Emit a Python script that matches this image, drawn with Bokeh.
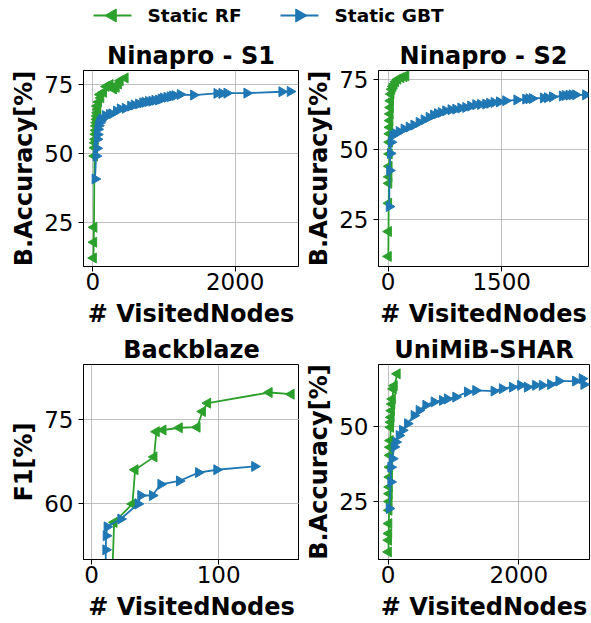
import numpy as np
from bokeh.plotting import figure
from bokeh.layouts import column, row
from bokeh.models import Range1d, FixedTicker, Label
from bokeh.embed import file_html
from bokeh.resources import INLINE

# ---------------- data: visited nodes vs. score ----------------
# Ninapro - S1 (balanced accuracy, %)
s1_rf_nodes = [8, 12, 15, 22, 26, 30, 34, 38, 42, 46, 50, 54, 58, 64, 70, 60, 80,
               112, 100, 150, 187, 243, 290, 328, 360, 384, 454]
s1_rf_acc = [12.3, 18.0, 23.4, 49.2, 52.2, 54.0, 55.3, 57.1, 58.5, 60.1, 61.3, 62.5,
             63.7, 64.9, 66.1, 67.3, 68.8, 70.3, 71.5, 72.3, 74.4, 75.1, 73.5, 74.1,
             75.3, 76.5, 77.5]
s1_gbt_nodes = [30, 45, 56, 60, 65, 70, 80, 95, 110, 130, 173, 230, 266, 330, 384, 454,
                530, 580, 641, 700, 735, 780, 828, 870, 922, 960, 992, 1040, 1086, 1120,
                1156, 1227, 1414, 1742, 1812, 1882, 2163, 2655, 2772]
s1_gbt_acc = [40.9, 49.2, 52.0, 55.3, 57.0, 58.9, 60.2, 61.3, 62.0, 62.7, 63.9, 64.3,
              64.5, 65.5, 66.3, 66.5, 67.3, 67.7, 68.1, 68.5, 68.7, 69.0, 69.1, 69.4,
              69.5, 69.9, 70.2, 70.5, 70.7, 71.0, 71.1, 71.5, 71.3, 71.9, 71.9, 72.0,
              72.0, 72.5, 72.6]

# Ninapro - S2 (balanced accuracy, %)
s2_rf_nodes = [3, 5, 8, 10, 12, 14, 16, 18, 20, 22, 24, 27, 30, 33, 38, 50, 65, 80,
               100, 130, 170, 210, 235]
s2_rf_acc = [11.8, 20.7, 30.8, 37.9, 40.2, 44.0, 48.4, 52.6, 55.6, 57.9, 60.3, 62.7,
             65.0, 67.4, 69.8, 71.5, 72.5, 73.3, 74.2, 75.1, 75.6, 76.0, 76.3]
s2_gbt_nodes = [14, 20, 30, 40, 60, 100, 145, 210, 277, 340, 409, 475, 541, 600, 651,
                700, 760, 830, 893, 960, 1025, 1090, 1157, 1220, 1289, 1340, 1399, 1470,
                1553, 1700, 1817, 1860, 1905, 2050, 2104, 2170, 2300, 2340, 2388, 2430,
                2476, 2608]
s2_gbt_acc = [29.6, 42.5, 48.6, 52.6, 55.0, 55.6, 56.4, 57.3, 58.0, 58.7, 59.7, 60.6,
              61.5, 62.3, 62.8, 63.2, 63.8, 64.2, 64.4, 64.8, 65.0, 65.5, 66.0, 66.1,
              66.2, 66.5, 66.8, 67.0, 67.4, 67.7, 68.0, 68.1, 68.2, 68.4, 68.5, 68.8,
              69.1, 69.3, 69.4, 69.5, 69.5, 69.5]

# Backblaze (F1, %)
bb_rf_nodes = [16.0, 17.8, 32.2, 34.3, 49.2, 51.0, 56.3, 69.1, 83.1, 87.3, 91.4, 139.8, 157.1]
bb_rf_f1 = [45.0, 56.7, 60.0, 66.1, 68.4, 72.9, 73.2, 73.6, 73.7, 76.5, 78.0, 79.9, 79.6]
bb_gbt_nodes = [11.2, 11.2, 11.5, 12.2, 23.0, 36.6, 38.7, 47.9, 54.5, 69.1, 84.1, 98.5, 128.3]
bb_gbt_f1 = [45.0, 51.8, 54.3, 55.9, 57.3, 60.0, 61.5, 61.5, 63.5, 64.1, 65.6, 66.1, 66.7]

# UniMiB-SHAR (balanced accuracy, %)
um_rf_nodes = [5, 8, 10, 12, 14, 16, 18, 20, 22, 25, 28, 31, 34, 38, 42, 46, 52, 58,
               66, 80, 95, 140]
um_rf_acc = [8.3, 12.2, 14.4, 17.7, 22.1, 25.0, 27.6, 29.8, 33.1, 36.4, 40.3, 43.0,
             45.2, 49.6, 51.3, 52.9, 55.1, 57.3, 59.0, 62.3, 63.4, 67.3]
um_gbt_nodes = [16, 41, 41, 67, 92, 118, 168, 219, 296, 397, 474, 576, 703, 830, 906,
                1034, 1212, 1339, 1619, 1746, 1899, 2026, 2128, 2255, 2357, 2484, 2611,
                2866, 2967, 2993]
um_gbt_acc = [22.7, 31.5, 36.4, 39.2, 43.1, 44.7, 46.9, 48.6, 50.8, 53.5, 55.2, 56.9,
              58.0, 58.5, 59.0, 59.6, 61.3, 61.8, 61.6, 62.4, 62.9, 63.5, 62.9, 63.5,
              63.5, 63.8, 64.9, 64.9, 65.7, 63.8]

# ---------------- style ----------------
RF_COLOR = "#2ca02c"
GBT_COLOR = "#1f77b4"
FONT = "DejaVu Sans"
LEFT = np.pi / 2      # triangle pointing left
RIGHT = -np.pi / 2    # triangle pointing right
LINE_W = 1.8
MARKER = 10
LABEL_SIZE = "24px"
TICK_SIZE = "23px"


def panel(title, rf, gbt, x_range, y_range, x_ticks, y_ticks, y_label, geom):
    width, height, left, right, top, bottom = geom
    p = figure(width=width, height=height,
               min_border_left=left, min_border_right=right,
               min_border_top=top, min_border_bottom=bottom,
               x_range=Range1d(*x_range), y_range=Range1d(*y_range),
               title=title, output_backend="svg", toolbar_location=None)
    p.background_fill_color = "white"
    p.border_fill_color = "white"
    p.outline_line_color = "black"
    p.outline_line_width = 1

    p.title.text_font = FONT
    p.title.text_font_size = LABEL_SIZE
    p.title.text_font_style = "bold"
    p.title.text_color = "black"
    p.title.align = "center"
    p.title.standoff = 1

    p.xaxis.ticker = FixedTicker(ticks=x_ticks)
    p.yaxis.ticker = FixedTicker(ticks=y_ticks)
    p.xaxis.axis_label = "# VisitedNodes"
    p.yaxis.axis_label = y_label
    for ax in (p.xaxis, p.yaxis):
        ax.axis_label_text_font = FONT
        ax.axis_label_text_font_size = LABEL_SIZE
        ax.axis_label_text_font_style = "bold"
        ax.axis_label_text_color = "black"
        ax.major_label_text_font = FONT
        ax.major_label_text_font_size = TICK_SIZE
        ax.major_label_text_color = "black"
        ax.major_tick_in = 0
        ax.major_tick_out = 5
        ax.major_tick_line_color = "black"
        ax.minor_tick_line_color = None
        ax.axis_line_color = "black"
    p.xaxis.major_label_standoff = 1
    p.xaxis.axis_label_standoff = 7
    p.yaxis.major_label_standoff = 5
    p.yaxis.axis_label_standoff = 3

    p.grid.grid_line_color = "#b0b0b0"
    p.grid.grid_line_width = 1
    p.grid.grid_line_alpha = 0.8

    for (xs, ys), color, angle in ((rf, RF_COLOR, LEFT), (gbt, GBT_COLOR, RIGHT)):
        p.line(xs, ys, line_color=color, line_width=LINE_W)
        p.scatter(xs, ys, marker="triangle", angle=angle, size=MARKER,
                  fill_color=color, line_color=color)
    return p


# geometry: width, height, border left, right, top, bottom
p1 = panel("Ninapro - S1", (s1_rf_nodes, s1_rf_acc), (s1_gbt_nodes, s1_gbt_acc),
           (-132, 2889), (9.2, 80.2), [0, 2000], [25, 50, 75], "B.Accuracy[%]",
           (299, 297, 83, 1, 35, 66))
p2 = panel("Ninapro - S2", (s2_rf_nodes, s2_rf_acc), (s2_gbt_nodes, s2_gbt_acc),
           (-127, 2647), (8.2, 78.2), [0, 1500], [25, 50, 75], "B.Accuracy[%]",
           (292, 297, 79, 3, 34, 65))
p3 = panel("Backblaze", (bb_rf_nodes, bb_rf_f1), (bb_gbt_nodes, bb_gbt_f1),
           (-6.3, 163.6), (50.07, 84.9), [0, 100], [60, 75], "F1[%]",
           (299, 291, 83, 0, 31, 63))
p4 = panel("UniMiB-SHAR", (um_rf_nodes, um_rf_acc), (um_gbt_nodes, um_gbt_acc),
           (-147, 3080), (5.8, 70.4), [0, 2000], [25, 50], "B.Accuracy[%]",
           (292, 291, 79, 2, 32, 64))

# ---------------- shared legend strip ----------------
W, H = 591, 35
leg = figure(width=W, height=H, x_range=Range1d(0, W), y_range=Range1d(0, H),
             x_axis_location=None, y_axis_location=None,
             min_border=0, output_backend="svg", toolbar_location=None)
leg.grid.visible = False
leg.outline_line_color = None
leg.background_fill_color = "white"
leg.border_fill_color = "white"

key_y = 20
for label, color, angle, x0 in (("Static RF", RF_COLOR, LEFT, 93),
                                ("Static GBT", GBT_COLOR, RIGHT, 280)):
    leg.line([x0, x0 + 38], [key_y, key_y], line_color=color, line_width=LINE_W)
    leg.scatter([x0 + 19], [key_y], marker="triangle", angle=angle, size=13,
                fill_color=color, line_color=color)
    leg.add_layout(Label(x=x0 + 54, y=key_y, text=label, text_font=FONT,
                         text_font_size="18.5px", text_font_style="bold",
                         text_color="black", text_baseline="middle"))

layout = column(leg, row(p1, p2), row(p3, p4))

with open("out.html", "w") as f:
    f.write(file_html(layout, INLINE))
